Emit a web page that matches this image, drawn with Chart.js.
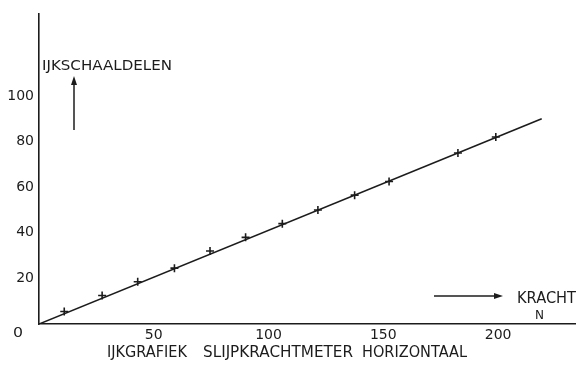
<!DOCTYPE html>
<html>
<head>
<meta charset="utf-8">
<script src="https://cdn.jsdelivr.net/npm/chart.js@4.4.0/dist/chart.umd.min.js"></script>
<style>
  html, body { margin: 0; padding: 0; background: #fff; }
  #wrap { width: 587px; height: 365px; position: relative; }
</style>
</head>
<body>
<div id="wrap"><canvas id="c" width="587" height="365"></canvas></div>
<script>
// measured points (kracht N -> schaaldelen)
const krachtN = [11, 27.5, 43, 59, 74.5, 90, 106, 121.5, 137.5, 152.5, 182.5, 199];
const schaaldelen = [5.5, 12.5, 18.5, 24.5, 32, 38, 44, 50, 56.5, 62.5, 75, 82];
// fitted calibration line
const lineX = [0, 219];
const lineY = [0, 90];
const xTicks = [50, 100, 150, 200];
const yTicks = [20, 40, 60, 80, 100];

const ink = '#1c1c1c';
const fontFam = '"DejaVu Sans", "Liberation Sans", sans-serif';

// draw text squeezed / stretched into a given width
function fitText(ctx, text, x, y, width, size) {
    ctx.save();
    ctx.font = size + 'px ' + fontFam;
    const w = ctx.measureText(text).width;
    ctx.translate(x, y);
    ctx.scale(width / w, 1);
    ctx.textAlign = 'left';
    ctx.textBaseline = 'middle';
    ctx.fillText(text, 0, 0);
    ctx.restore();
}

const annotations = {
    id: 'annotations',
    afterDraw(chart) {
        const ctx = chart.ctx;
        ctx.save();
        ctx.fillStyle = ink;
        ctx.strokeStyle = ink;

        // y axis title + up arrow
        fitText(ctx, 'IJKSCHAALDELEN', 42, 66, 130, 14);
        ctx.lineWidth = 1.5;
        ctx.beginPath();
        ctx.moveTo(74, 130);
        ctx.lineTo(74, 82);
        ctx.stroke();
        ctx.beginPath();
        ctx.moveTo(74, 76);
        ctx.lineTo(71, 85);
        ctx.lineTo(77, 85);
        ctx.closePath();
        ctx.fill();

        // x axis title + right arrow
        fitText(ctx, 'KRACHT', 517, 299, 59, 15);
        fitText(ctx, 'N', 535, 316, 9, 13);
        ctx.beginPath();
        ctx.moveTo(434, 296);
        ctx.lineTo(496, 296);
        ctx.stroke();
        ctx.beginPath();
        ctx.moveTo(503, 296);
        ctx.lineTo(494, 293);
        ctx.lineTo(494, 299);
        ctx.closePath();
        ctx.fill();

        // origin
        fitText(ctx, '0', 13, 333, 10, 14);

        // caption
        fitText(ctx, 'IJKGRAFIEK', 107, 353, 80, 15);
        fitText(ctx, 'SLIJPKRACHTMETER', 203, 353, 150, 15);
        fitText(ctx, 'HORIZONTAAL', 362, 353, 105, 15);
        ctx.restore();
    }
};

new Chart(document.getElementById('c'), {
    type: 'scatter',
    data: {
        datasets: [
            {
                label: 'ijklijn',
                data: lineX.map((x, i) => ({ x: x, y: lineY[i] })),
                showLine: true,
                borderColor: ink,
                borderWidth: 1.6,
                pointRadius: 0
            },
            {
                label: 'metingen',
                data: krachtN.map((x, i) => ({ x: x, y: schaaldelen[i] })),
                showLine: false,
                pointStyle: 'cross',
                pointRadius: 4,
                borderColor: ink,
                borderWidth: 1.6
            }
        ]
    },
    options: {
        responsive: false,
        animation: false,
        layout: { padding: { top: 12, right: 12, left: 0, bottom: 0 } },
        plugins: {
            legend: { display: false },
            tooltip: { enabled: false }
        },
        scales: {
            x: {
                type: 'linear',
                min: 0,
                max: 233.5,
                afterFit: (s) => { s.height = 41; },
                afterBuildTicks: (s) => { s.ticks = xTicks.map(v => ({ value: v })); },
                grid: { display: false, drawTicks: false },
                border: { display: true, color: ink, width: 1.6 },
                ticks: {
                    padding: 3,
                    color: ink,
                    maxRotation: 0,
                    font: { family: fontFam, size: 14 }
                }
            },
            y: {
                type: 'linear',
                min: 0,
                max: 136.2,
                afterFit: (s) => { s.width = 39; },
                afterBuildTicks: (s) => { s.ticks = yTicks.map(v => ({ value: v })); },
                grid: { display: false, drawTicks: false },
                border: { display: true, color: ink, width: 1.6 },
                ticks: {
                    padding: 5,
                    color: ink,
                    font: { family: fontFam, size: 14 }
                }
            }
        }
    },
    plugins: [annotations]
});
</script>
</body>
</html>
